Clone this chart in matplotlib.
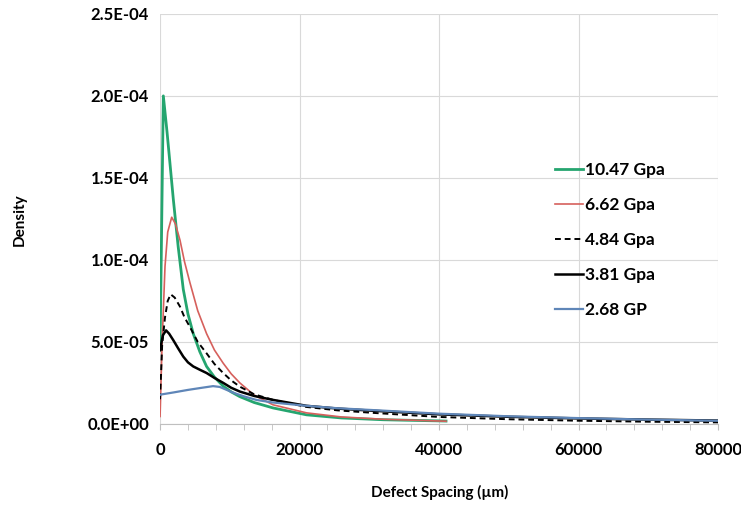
import matplotlib.pyplot as plt
from matplotlib.ticker import FuncFormatter, MultipleLocator

# values
x_green = [0, 470, 1000, 1900, 2600, 3330, 4000, 4760, 5700, 6670, 7800, 9050, 10200, 11430, 13500, 16200, 21000, 26000, 32000, 40000, 41000]
y_green = [4.5e-5, 2.0e-4, 1.78e-4, 1.37e-4, 1.08e-4, 8.2e-5, 6.7e-5, 5.5e-5, 4.4e-5, 3.5e-5, 2.85e-5, 2.3e-5, 1.95e-5, 1.66e-5, 1.3e-5, 9.7e-6, 5.5e-6, 3.6e-6, 2.5e-6, 1.8e-6, 1.7e-6]

x_red = [0, 300, 710, 1100, 1670, 2200, 2860, 3500, 4290, 5400, 6670, 7800, 9050, 10200, 11430, 13500, 16200, 21000, 26000, 32000, 41000]
y_red = [4.5e-6, 5.0e-5, 9.6e-5, 1.17e-4, 1.26e-4, 1.22e-4, 1.12e-4, 9.9e-5, 8.6e-5, 6.9e-5, 5.5e-5, 4.5e-5, 3.7e-5, 3.05e-5, 2.5e-5, 1.75e-5, 1.16e-5, 6.7e-6, 4.2e-6, 2.8e-6, 1.6e-6]

x_dash = [0, 300, 710, 1100, 1520, 2100, 2860, 3500, 4290, 5400, 6670, 7800, 9050, 10200, 11430, 13500, 16200, 21000, 25500, 30500, 40000, 50000, 60000, 70000, 80000]
y_dash = [1.5e-5, 4.8e-5, 6.5e-5, 7.5e-5, 7.9e-5, 7.7e-5, 7.15e-5, 6.5e-5, 5.9e-5, 5.0e-5, 4.3e-5, 3.65e-5, 3.1e-5, 2.65e-5, 2.27e-5, 1.8e-5, 1.46e-5, 1.03e-5, 8.2e-6, 6.7e-6, 4.2e-6, 2.8e-6, 1.9e-6, 1.3e-6, 9e-7]

x_black = [0, 400, 860, 1300, 1900, 2600, 3330, 4000, 4760, 5700, 6670, 7800, 9050, 10200, 11430, 13500, 16200, 21000, 25500, 30500, 40000, 50000, 60000, 70000, 80000]
y_black = [4.5e-5, 5.4e-5, 5.7e-5, 5.5e-5, 5.1e-5, 4.6e-5, 4.1e-5, 3.75e-5, 3.5e-5, 3.3e-5, 3.1e-5, 2.8e-5, 2.5e-5, 2.2e-5, 1.97e-5, 1.7e-5, 1.46e-5, 1.1e-5, 9.3e-6, 8e-6, 5.8e-6, 4.3e-6, 3.3e-6, 2.6e-6, 2.0e-6]

x_blue = [0, 300, 2000, 4000, 6000, 7600, 8570, 9500, 10500, 12000, 13800, 16200, 21000, 25500, 30500, 40000, 50000, 60000, 70000, 80000]
y_blue = [1.77e-5, 1.8e-5, 1.92e-5, 2.07e-5, 2.2e-5, 2.3e-5, 2.25e-5, 2.08e-5, 1.9e-5, 1.68e-5, 1.46e-5, 1.3e-5, 1.1e-5, 9.5e-6, 8.4e-6, 6.2e-6, 4.6e-6, 3.5e-6, 2.6e-6, 1.9e-6]

labels = ['10.47 Gpa', '6.62 Gpa', '4.84 Gpa', '3.81 Gpa', '2.68 GP']

plt.rcParams['font.family'] = ['Lato', 'DejaVu Sans']

fig = plt.figure(figsize=(7.41, 5.15), dpi=100)
ax = fig.add_axes([0.216, 0.177, 0.753, 0.796])

ax.plot(x_green, y_green, color='#25a56f', lw=2.0, label=labels[0])
ax.plot(x_red, y_red, color='#d6605c', lw=1.2, label=labels[1])
ax.plot(x_dash, y_dash, color='black', lw=1.4, ls=(0, (3, 2)), label=labels[2])
ax.plot(x_black, y_black, color='black', lw=1.8, label=labels[3])
ax.plot(x_blue, y_blue, color='#5f86b8', lw=1.6, label=labels[4])

ax.set_xlim(0, 80000)
ax.set_ylim(0, 2.5e-4)
ax.xaxis.set_major_locator(MultipleLocator(20000))
ax.xaxis.set_minor_locator(MultipleLocator(4000))
ax.yaxis.set_major_locator(MultipleLocator(5e-5))
ax.yaxis.set_major_formatter(FuncFormatter(lambda v, p: f'{v:.1E}'))
ax.grid(True, color='#d9d9d9', lw=0.8)
ax.set_axisbelow(True)

for s in ['top', 'right', 'left']:
    ax.spines[s].set_visible(False)
ax.spines['bottom'].set_color('#bfbfbf')
ax.tick_params(axis='y', length=0, pad=8, labelsize=12)
ax.tick_params(axis='x', which='both', direction='out', colors='#bfbfbf', length=4, pad=9,
               labelsize=12, labelcolor='black')
for t in ax.get_xticklabels() + ax.get_yticklabels():
    t.set_fontweight('bold')

fig.text(0.026, 0.573, 'Density', rotation=90, ha='center', va='center', fontsize=11, fontweight='bold')
fig.text(0.594, 0.043, 'Defect Spacing (µm)', ha='center', va='center', fontsize=11, fontweight='bold')

leg = ax.legend(loc='upper left', bbox_to_anchor=(0.68, 0.677), frameon=False, handlelength=1.6,
                handletextpad=0.1, labelspacing=1.1, prop={'weight': 'bold', 'size': 12.5})

fig.savefig('out.png', dpi=100)
